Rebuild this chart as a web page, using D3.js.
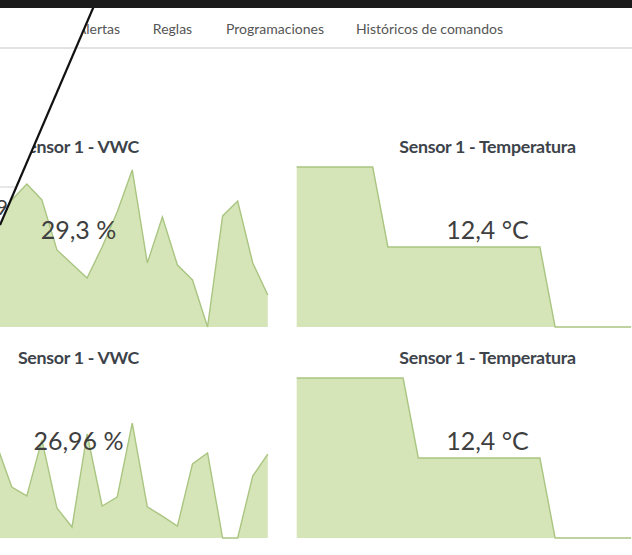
<!DOCTYPE html>
<html>
<head>
<meta charset="utf-8">
<script src="https://cdn.jsdelivr.net/npm/d3@7/dist/d3.min.js"></script>
<style>
    html, body { margin: 0; padding: 0; background: #fff; }
    svg { display: block; font-family: Lato, "Open Sans", sans-serif; }
</style>
</head>
<body>
<svg id="dashboard" width="632" height="555"></svg>
<script>
// values
var navItems = ["Alertas", "Reglas", "Programaciones", "Históricos de comandos"];
var panelTitles = ["Sensor 1 - VWC", "Sensor 1 - Temperatura"];
var currentValues = ["29,3 %", "12,4 °C", "26,96 %", "12,4 °C"];

var vwcTopValues = [28.33, 29.56, 30.26, 29.56, 27.37, 26.76, 26.14, 27.5, 29.03, 30.87,
    26.8, 28.81, 26.71, 26.06, 24.0, 28.86, 29.51, 26.8, 25.4];
var vwcBottomValues = [28.07, 26.23, 25.84, 28.29, 25.31, 24.48, 28.55, 25.4, 25.79, 29.03,
    25.36, 24.96, 24.52, 27.24, 27.72, 24.0, 24.0, 26.71, 27.67];
var tempTopValues = [12.5, 12.5, 12.5, 12.5, 12.5, 12.5,
    12.4, 12.4, 12.4, 12.4, 12.4, 12.4, 12.4, 12.4, 12.4, 12.4, 12.4,
    12.3, 12.3, 12.3, 12.3, 12.3, 12.3];
var tempBottomValues = [12.5, 12.5, 12.5, 12.5, 12.5, 12.5, 12.5, 12.5,
    12.4, 12.4, 12.4, 12.4, 12.4, 12.4, 12.4, 12.4, 12.4,
    12.3, 12.3, 12.3, 12.3, 12.3, 12.3];

var svg = d3.select("#dashboard");
var fillColor = "#d6e5b8";
var lineColor = "#a9c581";

var vwcX = d3.scaleLinear().domain([0, vwcTopValues.length - 1]).range([-3.3, 267.8]);
var tempX = d3.scaleLinear().domain([0, tempTopValues.length - 1]).range([296.7, 631.1]);

function drawPanel(values, xScale, yDomain, baseline, cx, title, valueText) {
    var y = d3.scaleLinear().domain(yDomain).range([baseline, baseline - 160]);
    var g = svg.append("g").classed("panel", true);

    var area = d3.area()
        .x(function (d, i) { return xScale(i); })
        .y0(baseline)
        .y1(function (d) { return y(d); });
    var line = d3.line()
        .x(function (d, i) { return xScale(i); })
        .y(function (d) { return y(d); });

    g.append("path")
        .datum(values)
        .attr("d", area)
        .attr("fill", fillColor);
    g.append("path")
        .datum(values)
        .attr("d", line)
        .attr("fill", "none")
        .attr("stroke", lineColor)
        .attr("stroke-width", 1.4);

    g.append("text")
        .text(title)
        .attr("x", cx)
        .attr("y", baseline - 174)
        .attr("text-anchor", "middle")
        .attr("font-size", 17.8)
        .attr("font-weight", "bold")
        .attr("letter-spacing", -0.3)
        .attr("fill", "#3d434a");

    g.append("text")
        .text(valueText)
        .attr("x", cx)
        .attr("y", baseline - 88)
        .attr("text-anchor", "middle")
        .attr("font-size", 25)
        .attr("fill", "#3f3f3f");
}

drawPanel(vwcTopValues, vwcX, [24, 31], 327, 78.5, panelTitles[0], currentValues[0]);
drawPanel(tempTopValues, tempX, [12.3, 12.5], 327, 487.5, panelTitles[1], currentValues[1]);
drawPanel(vwcBottomValues, vwcX, [24, 31], 538, 78.5, panelTitles[0], currentValues[2]);
drawPanel(tempBottomValues, tempX, [12.3, 12.5], 538, 487.5, panelTitles[1], currentValues[3]);

// nav menu
var navX = [98.5, 172.5, 275, 429.5];
svg.selectAll(".navitem")
    .data(navItems)
    .enter()
    .append("text")
    .classed("navitem", true)
    .text(function (d) { return d; })
    .attr("x", function (d, i) { return navX[i]; })
    .attr("y", 34)
    .attr("text-anchor", "middle")
    .attr("font-size", 14)
    .attr("fill", "#555");

// the cut-off layer left of the diagonal
var diagX = function (yy) { return 96.5 - 0.429 * yy; };
svg.append("polygon")
    .attr("points", [[0, 8], [diagX(8), 8], [0, 225]].map(function (p) { return p.join(","); }).join(" "))
    .attr("fill", "#fff");

svg.append("line")
    .attr("x1", 0).attr("x2", 632)
    .attr("y1", 48).attr("y2", 48)
    .attr("stroke", "#e3e3e3")
    .attr("stroke-width", 2);

svg.append("line")
    .attr("x1", 0).attr("x2", diagX(187))
    .attr("y1", 187).attr("y2", 187)
    .attr("stroke", "#cfcfcf")
    .attr("stroke-width", 1);

svg.append("text")
    .text("9")
    .attr("x", 8)
    .attr("y", 215)
    .attr("text-anchor", "end")
    .attr("font-size", 21)
    .attr("fill", "#3f3f3f");

svg.append("line")
    .attr("x1", 96.5).attr("y1", 0)
    .attr("x2", 0).attr("y2", 225)
    .attr("stroke", "#111")
    .attr("stroke-width", 2.2);

svg.append("rect")
    .attr("x", 0).attr("y", 0)
    .attr("width", 632).attr("height", 8)
    .attr("fill", "#1b1b1b");
</script>
</body>
</html>
